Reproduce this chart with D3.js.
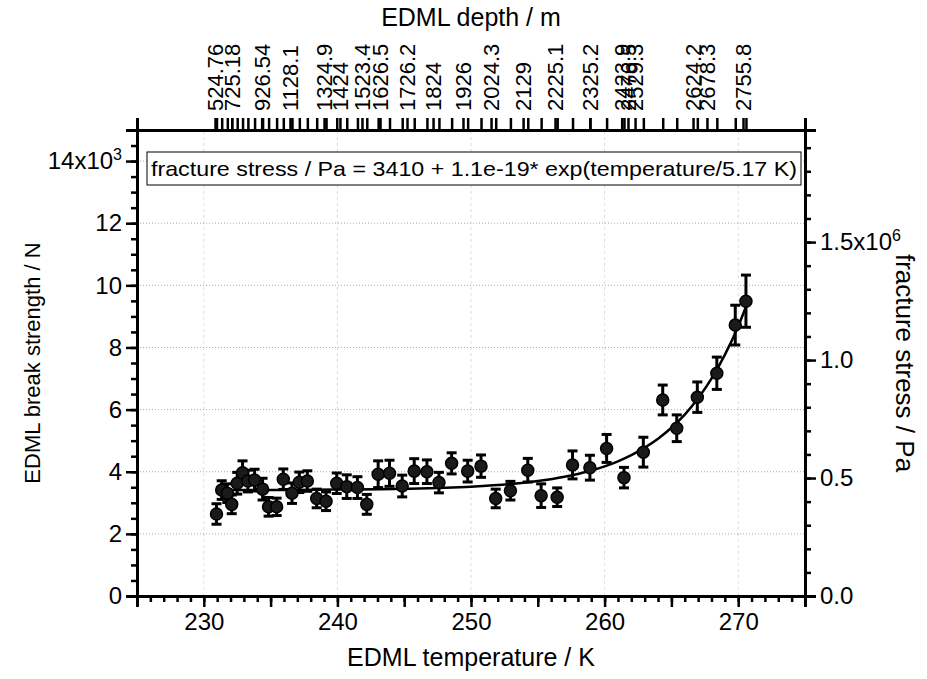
<!DOCTYPE html>
<html>
<head>
<meta charset="utf-8">
<script src="https://cdn.jsdelivr.net/npm/d3@7"></script>
<style>
  body { margin: 0; background: #fff; }
  svg { display: block; font-family: "Liberation Sans", Arial, sans-serif; }
</style>
</head>
<body>
<div id="chart"></div>
<script>
// EDML sample temperatures (K)
const temperature = [230.95, 231.34, 231.76, 232.09, 232.5, 232.9, 233.3, 233.8, 234.4, 234.85,
  235.45, 235.95, 236.6, 237.15, 237.75, 238.45, 239.15, 239.95, 240.7, 241.5,
  242.2, 243.05, 243.9, 244.85, 245.75, 246.7, 247.6, 248.55, 249.75, 250.75,
  251.85, 252.95, 254.25, 255.25, 256.45, 257.6, 258.9, 260.15, 261.45, 262.9,
  264.35, 265.4, 266.94, 268.4, 269.78, 270.58];
// break strength (N)
const strength = [2640, 3410, 3310, 2950, 3630, 3970, 3700, 3730, 3440, 2870,
  2870, 3760, 3310, 3660, 3700, 3140, 3050, 3630, 3520, 3490,
  2950, 3920, 3950, 3540, 4020, 4000, 3650, 4270, 4020, 4180,
  3140, 3390, 4050, 3230, 3180, 4220, 4130, 4750, 3810, 4630,
  6310, 5400, 6400, 7170, 8720, 9490];
// error (N)
const strengthErr = [330, 300, 300, 300, 350, 380, 350, 350, 350, 300,
  280, 330, 330, 330, 330, 300, 300, 330, 380, 350,
  320, 430, 420, 350, 400, 380, 330, 340, 350, 360,
  300, 300, 380, 380, 300, 450, 400, 450, 330, 480,
  480, 430, 490, 520, 640, 840];

// fit curve
const fitTemp = [230.95, 235, 240, 245, 250, 253, 255, 257, 259, 260, 261, 262, 263, 264, 265, 266, 267, 268, 269, 270, 270.58];
const fitValue = [3411, 3413, 3426, 3452, 3520, 3607, 3700, 3837, 4038, 4171, 4335, 4533, 4775, 5063, 5417, 5840, 6364, 6995, 7760, 8680, 9310];

// top axis: depth labels and their temperature positions
const depthLabels = ["524.76", "725.18", "926.54", "1128.1", "1324.9", "1424", "1523.4", "1626.5", "1726.2", "1824",
  "1926", "2024.3", "2129", "2225.1", "2325.2", "2423.9", "2476.5", "2529.3", "2624.2", "2678.3", "2755.8"];
const depthLabelTemp = [230.84, 232.09, 234.33, 236.45, 239.0, 240.19, 241.84, 243.19, 245.21, 247.16,
  249.4, 251.5, 253.9, 256.29, 258.9, 261.28, 261.75, 262.28, 266.62, 267.66, 270.36];

const W = 927, H = 679;
const x0 = 137, x1 = 805, y0 = 596, y1 = 130;

const svg = d3.select("#chart").append("svg")
  .attr("width", W).attr("height", H);

const x = d3.scaleLinear().domain([225, 275]).range([x0, x1]);
const y = d3.scaleLinear().domain([0, 15000]).range([y0, y1]);
const yR = d3.scaleLinear().domain([0, 1.975e6]).range([y0, y1]);

// grid
svg.append("g").selectAll("line")
  .data(d3.range(230, 275, 10))
  .join("line")
  .attr("x1", d => x(d)).attr("x2", d => x(d))
  .attr("y1", y0).attr("y2", y1)
  .attr("stroke", "#ddd").attr("stroke-width", 1).attr("stroke-dasharray", "3,3");

svg.append("g").selectAll("line")
  .data(d3.range(2000, 15000, 2000))
  .join("line")
  .attr("x1", x0).attr("x2", x1)
  .attr("y1", d => y(d)).attr("y2", d => y(d))
  .attr("stroke", "#aaa").attr("stroke-width", 1).attr("stroke-dasharray", "1,2");

// helper to style axes
function styleAxis(g) {
  g.select(".domain").attr("stroke", "#000").attr("stroke-width", 3);
  g.selectAll(".tick line").attr("stroke", "#000").attr("stroke-width", 2.5);
  g.selectAll(".tick text").attr("fill", "#000").style("font-size", "24px");
}

// bottom axis: minor ticks every 1, major every 5, labels every 10
svg.append("g")
  .attr("transform", `translate(0,${y0})`)
  .call(d3.axisBottom(x).tickValues(d3.range(225, 276, 1)).tickSize(6).tickFormat(""))
  .call(styleAxis);
svg.append("g")
  .attr("transform", `translate(0,${y0})`)
  .call(d3.axisBottom(x).tickValues(d3.range(225, 276, 5)).tickSize(11)
    .tickFormat(d => d % 10 === 0 && d > 225 && d < 275 ? d : "").tickPadding(6))
  .call(styleAxis);

// left axis
svg.append("g")
  .attr("transform", `translate(${x0},0)`)
  .call(d3.axisLeft(y).tickValues(d3.range(0, 15001, 500)).tickSize(6).tickFormat(""))
  .call(styleAxis);
const leftMajor = svg.append("g")
  .attr("transform", `translate(${x0},0)`)
  .call(d3.axisLeft(y).tickValues(d3.range(0, 14001, 2000)).tickSize(11)
    .tickFormat(d => d / 1000).tickPadding(4))
  .call(styleAxis);
leftMajor.selectAll(".tick text").filter(d => d === 14000)
  .text("14x10")
  .append("tspan").attr("dy", "-0.55em").style("font-size", "16px").text("3");

// right axis
svg.append("g")
  .attr("transform", `translate(${x1},0)`)
  .call(d3.axisRight(yR).tickValues(d3.range(0, 1.95e6, 1e5)).tickSize(6).tickFormat(""))
  .call(styleAxis);
const rightMajor = svg.append("g")
  .attr("transform", `translate(${x1},0)`)
  .call(d3.axisRight(yR).tickValues([0, 5e5, 1e6, 1.5e6]).tickSize(11)
    .tickFormat(d => (d / 1e6).toFixed(1)).tickPadding(4))
  .call(styleAxis);
rightMajor.selectAll(".tick text").filter(d => d === 1.5e6)
  .text("1.5x10")
  .append("tspan").attr("dy", "-0.55em").style("font-size", "16px").text("6");

// top axis (depth)
svg.append("g")
  .attr("transform", `translate(0,${y1})`)
  .call(d3.axisTop(x).tickValues(temperature).tickSize(12).tickFormat(""))
  .call(styleAxis);
const topAxis = svg.append("g")
  .attr("transform", `translate(0,${y1})`)
  .call(d3.axisTop(x).tickValues(depthLabelTemp).tickSize(12)
    .tickFormat((d, i) => depthLabels[i]))
  .call(styleAxis);
topAxis.select(".domain").remove();
topAxis.selectAll(".tick text")
  .attr("transform", "rotate(-90)")
  .attr("x", 19).attr("y", 0).attr("dy", "0.35em")
  .attr("text-anchor", "start")
  .style("font-size", "22px");

// fit curve
const line = d3.line()
  .x((d, i) => x(fitTemp[i]))
  .y(d => y(d))
  .curve(d3.curveMonotoneX);
svg.append("path")
  .datum(fitValue)
  .attr("d", line)
  .attr("fill", "none")
  .attr("stroke", "#000")
  .attr("stroke-width", 2.5);

// error bars
const pts = temperature.map((t, i) => ({ t, v: strength[i], e: strengthErr[i] }));
const bars = svg.append("g").attr("stroke", "#000").attr("stroke-width", 3);
bars.selectAll(".eb").data(pts).join("line")
  .attr("x1", d => x(d.t)).attr("x2", d => x(d.t))
  .attr("y1", d => y(d.v - d.e)).attr("y2", d => y(d.v + d.e));
bars.selectAll(".cap-top").data(pts).join("line")
  .attr("x1", d => x(d.t) - 5).attr("x2", d => x(d.t) + 5)
  .attr("y1", d => y(d.v + d.e)).attr("y2", d => y(d.v + d.e));
bars.selectAll(".cap-bot").data(pts).join("line")
  .attr("x1", d => x(d.t) - 5).attr("x2", d => x(d.t) + 5)
  .attr("y1", d => y(d.v - d.e)).attr("y2", d => y(d.v - d.e));

// markers
svg.append("g").selectAll("circle").data(pts).join("circle")
  .attr("cx", d => x(d.t)).attr("cy", d => y(d.v))
  .attr("r", 6)
  .attr("fill", "#1a1a1a")
  .attr("stroke", "#000")
  .attr("stroke-width", 1.5);

// legend / fit box
const box = svg.append("g");
box.append("rect")
  .attr("x", 147).attr("y", 152).attr("width", 654).attr("height", 33)
  .attr("fill", "#fff").attr("stroke", "#000").attr("stroke-width", 1);
box.append("text")
  .attr("x", 151).attr("y", 176)
  .style("font-size", "21px")
  .attr("textLength", 646)
  .attr("lengthAdjust", "spacingAndGlyphs")
  .text("fracture stress / Pa = 3410 + 1.1e-19* exp(temperature/5.17 K)");

// axis titles
svg.append("text")
  .attr("x", (x0 + x1) / 2).attr("y", 666)
  .attr("text-anchor", "middle").style("font-size", "25px")
  .text("EDML temperature / K");
svg.append("text")
  .attr("x", (x0 + x1) / 2).attr("y", 26)
  .attr("text-anchor", "middle").style("font-size", "25px")
  .text("EDML depth / m");
svg.append("text")
  .attr("transform", `translate(40,${(y0 + y1) / 2}) rotate(-90)`)
  .attr("text-anchor", "middle").style("font-size", "22px")
  .text("EDML break strength / N");
svg.append("text")
  .attr("transform", `translate(896,${(y0 + y1) / 2}) rotate(90)`)
  .attr("text-anchor", "middle").style("font-size", "26px")
  .text("fracture stress / Pa");
</script>
</body>
</html>
